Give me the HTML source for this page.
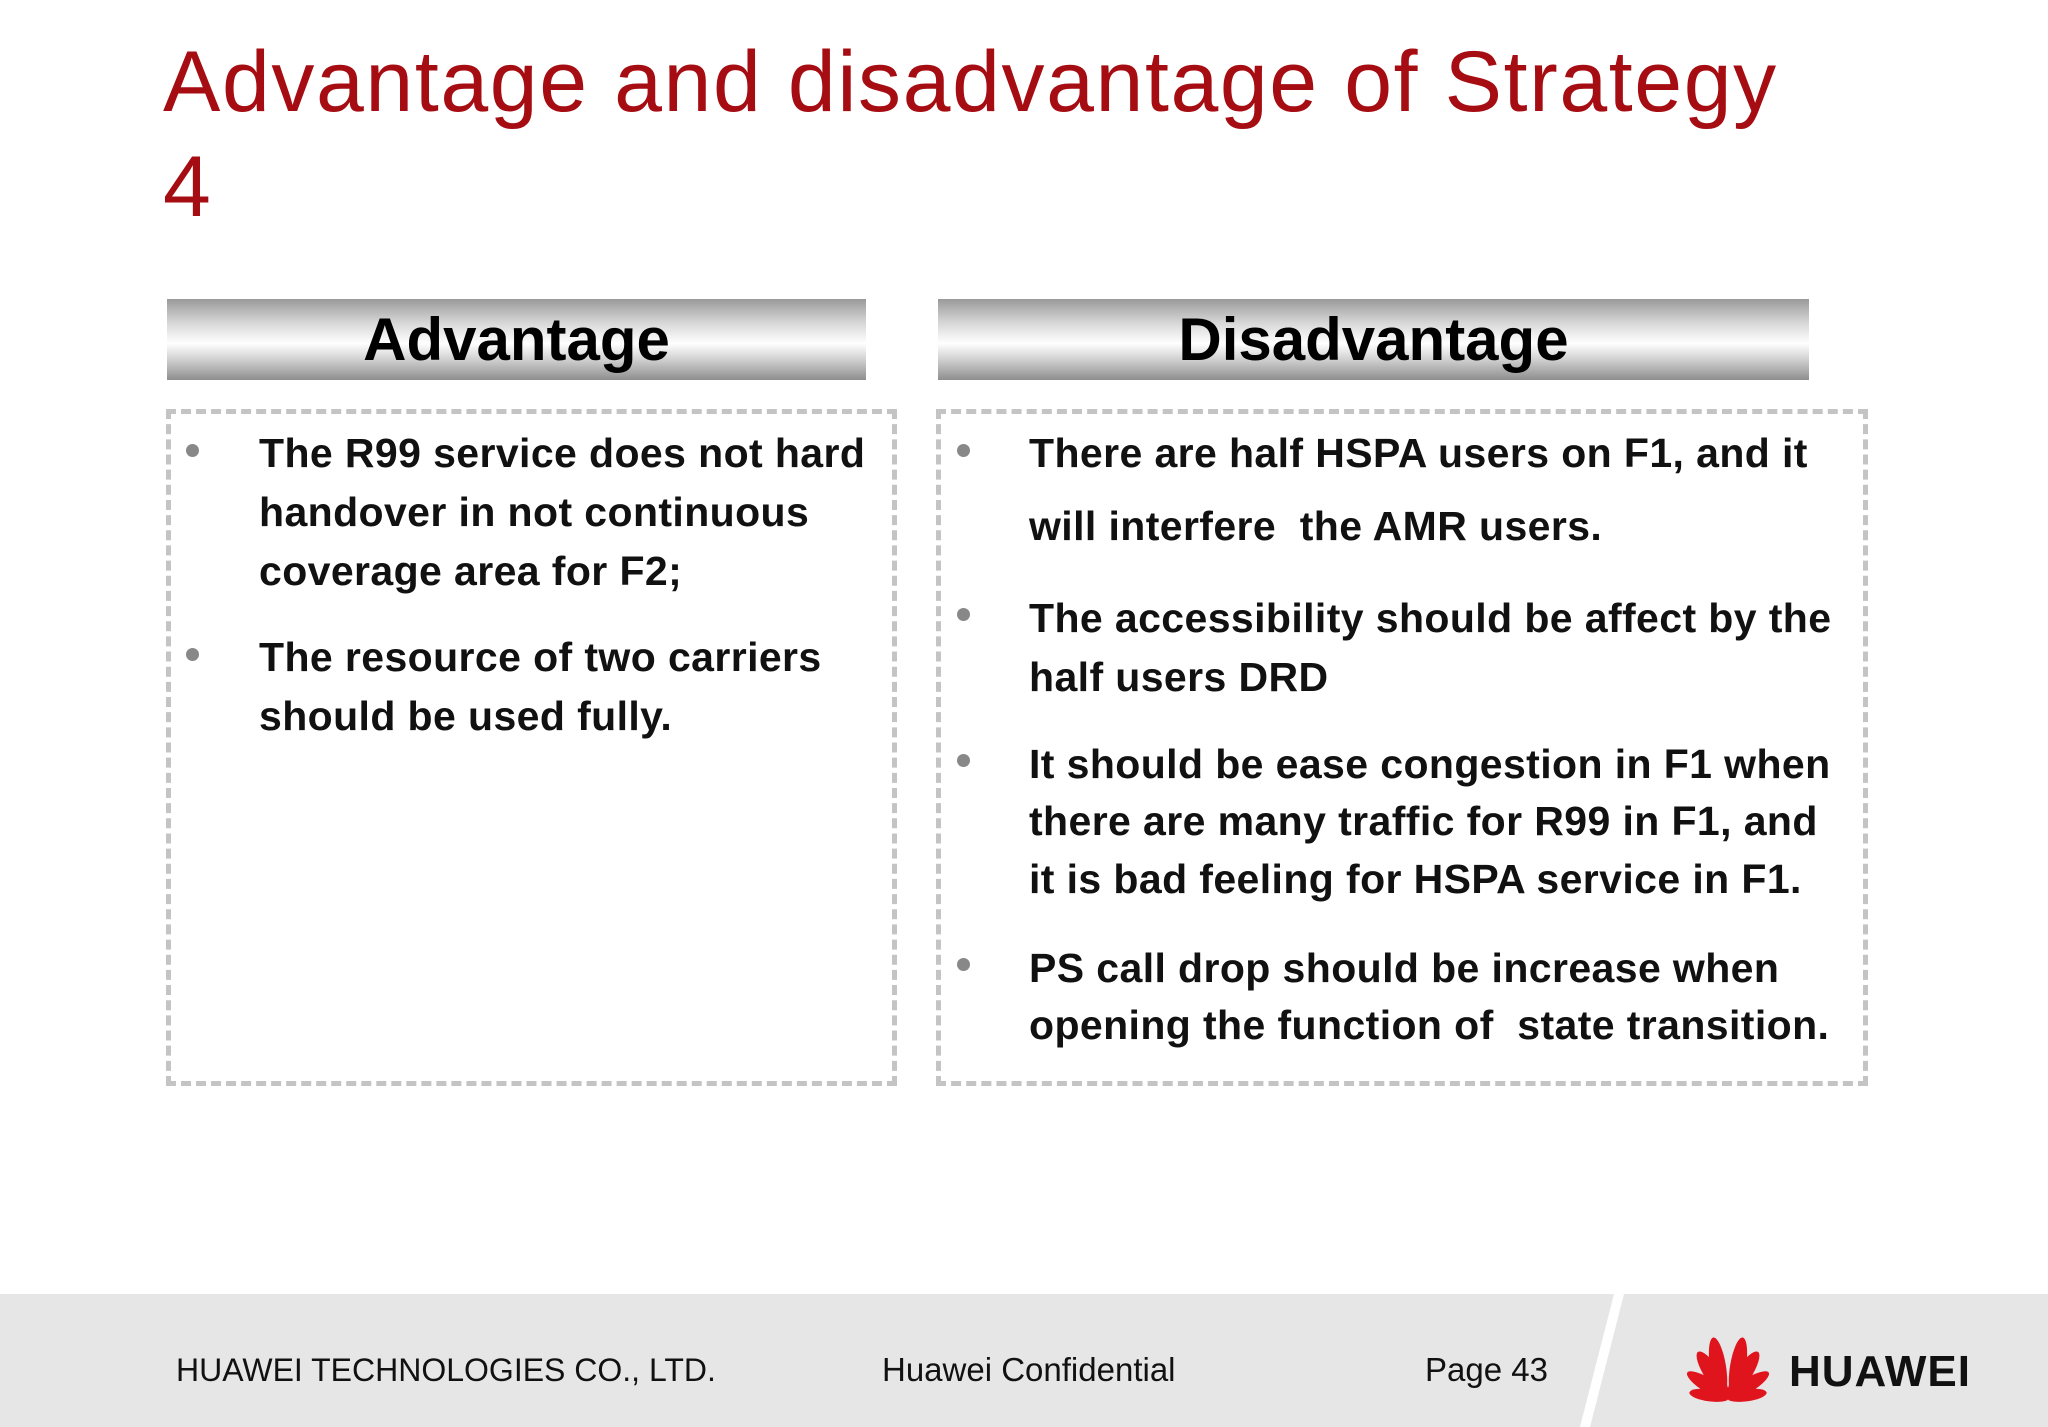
<!DOCTYPE html>
<html><head><meta charset="utf-8"><style>
*{margin:0;padding:0;box-sizing:border-box}
body{width:2048px;height:1427px;background:#fff;position:relative;overflow:hidden;font-family:"Liberation Sans",sans-serif}
.abs{position:absolute;white-space:nowrap}
.title{left:163px;color:#a50d12;font-size:86px;line-height:105px;letter-spacing:1.6px}
.bar{position:absolute;top:299px;height:81px;background:linear-gradient(#9a9a9a 0%,#d8d8d8 30%,#ffffff 55%,#cfcfcf 75%,#8e8e8e 100%);text-align:center;font-weight:bold;font-size:60px;line-height:81px;color:#000}
.box{position:absolute;top:409px;height:677px;border:5px dashed #c4c4c4}
.t{position:absolute;font-weight:bold;font-size:41px;letter-spacing:0.4px;color:#111;white-space:nowrap;line-height:50px;transform:translateY(-25px)}
.dot{position:absolute;width:13px;height:13px;border-radius:50%;background:#888;transform:translate(-6px,-6px)}
.foot{position:absolute;top:1294px;left:0;width:2048px;height:133px;background:#e6e6e6}
.ft{position:absolute;top:1370px;font-size:33px;color:#111;transform:translateY(-20px);line-height:40px;white-space:nowrap}
</style></head><body>
<div class="abs title" style="top:30px">Advantage and disadvantage of Strategy<br>4</div>

<div class="bar" style="left:167px;width:699px">Advantage</div>
<div class="bar" style="left:938px;width:871px">Disadvantage</div>

<div class="box" style="left:166px;width:731px"></div>
<div class="box" style="left:936px;width:932px"></div>

<div class="dot" style="left:192px;top:450px"></div>
<div class="t" style="left:259px;top:453px">The R99 service does not hard</div>
<div class="t" style="left:259px;top:512px">handover in not continuous</div>
<div class="t" style="left:259px;top:571px">coverage area for F2;</div>
<div class="dot" style="left:192px;top:654px"></div>
<div class="t" style="left:259px;top:657px">The resource of two carriers</div>
<div class="t" style="left:259px;top:716px">should be used fully.</div>

<div class="dot" style="left:963px;top:450px"></div>
<div class="t" style="left:1029px;top:453px">There are half HSPA users on F1, and it</div>
<div class="t" style="left:1029px;top:526px">will interfere&nbsp; the AMR users.</div>
<div class="dot" style="left:963px;top:614px"></div>
<div class="t" style="left:1029px;top:618px">The accessibility should be affect by the</div>
<div class="t" style="left:1029px;top:677px">half users DRD</div>
<div class="dot" style="left:963px;top:760px"></div>
<div class="t" style="left:1029px;top:764px">It should be ease congestion in F1 when</div>
<div class="t" style="left:1029px;top:821px">there are many traffic for R99 in F1, and</div>
<div class="t" style="left:1029px;top:879px">it is bad feeling for HSPA service in F1.</div>
<div class="dot" style="left:963px;top:964px"></div>
<div class="t" style="left:1029px;top:968px">PS call drop should be increase when</div>
<div class="t" style="left:1029px;top:1025px">opening the function of&nbsp; state transition.</div>

<div class="foot"></div>
<svg class="abs" style="left:0;top:1294px" width="2048" height="133">
<polygon points="1614,0 1624,0 1590,133 1580,133" fill="#fff"/>
</svg>
<div class="ft" style="left:176px;font-size:32px">HUAWEI TECHNOLOGIES CO., LTD.</div>
<div class="ft" style="left:882px">Huawei Confidential</div>
<div class="ft" style="left:1425px">Page 43</div>
<svg class="abs" style="left:1678px;top:1328px" width="100" height="75">
<g fill="#e0141c">
<ellipse cx="50" cy="38" rx="8" ry="30" transform="rotate(-9 50 70) translate(-5 0)"/>
<ellipse cx="50" cy="38" rx="8" ry="30" transform="rotate(9 50 70) translate(5 0)"/>
<ellipse cx="50" cy="42" rx="8" ry="27" transform="rotate(-33 50 70)"/>
<ellipse cx="50" cy="42" rx="8" ry="27" transform="rotate(33 50 70)"/>
<ellipse cx="50" cy="46" rx="7" ry="24" transform="rotate(-58 50 70)"/>
<ellipse cx="50" cy="46" rx="7" ry="24" transform="rotate(58 50 70)"/>
<ellipse cx="50" cy="51" rx="6" ry="20" transform="rotate(-82 50 70)"/>
<ellipse cx="50" cy="51" rx="6" ry="20" transform="rotate(82 50 70)"/>
</g></svg>
<div class="abs" style="left:1789px;top:1348px;font-size:44px;font-weight:bold;line-height:48px;letter-spacing:1px;color:#111">HUAWEI</div>
</body></html>
